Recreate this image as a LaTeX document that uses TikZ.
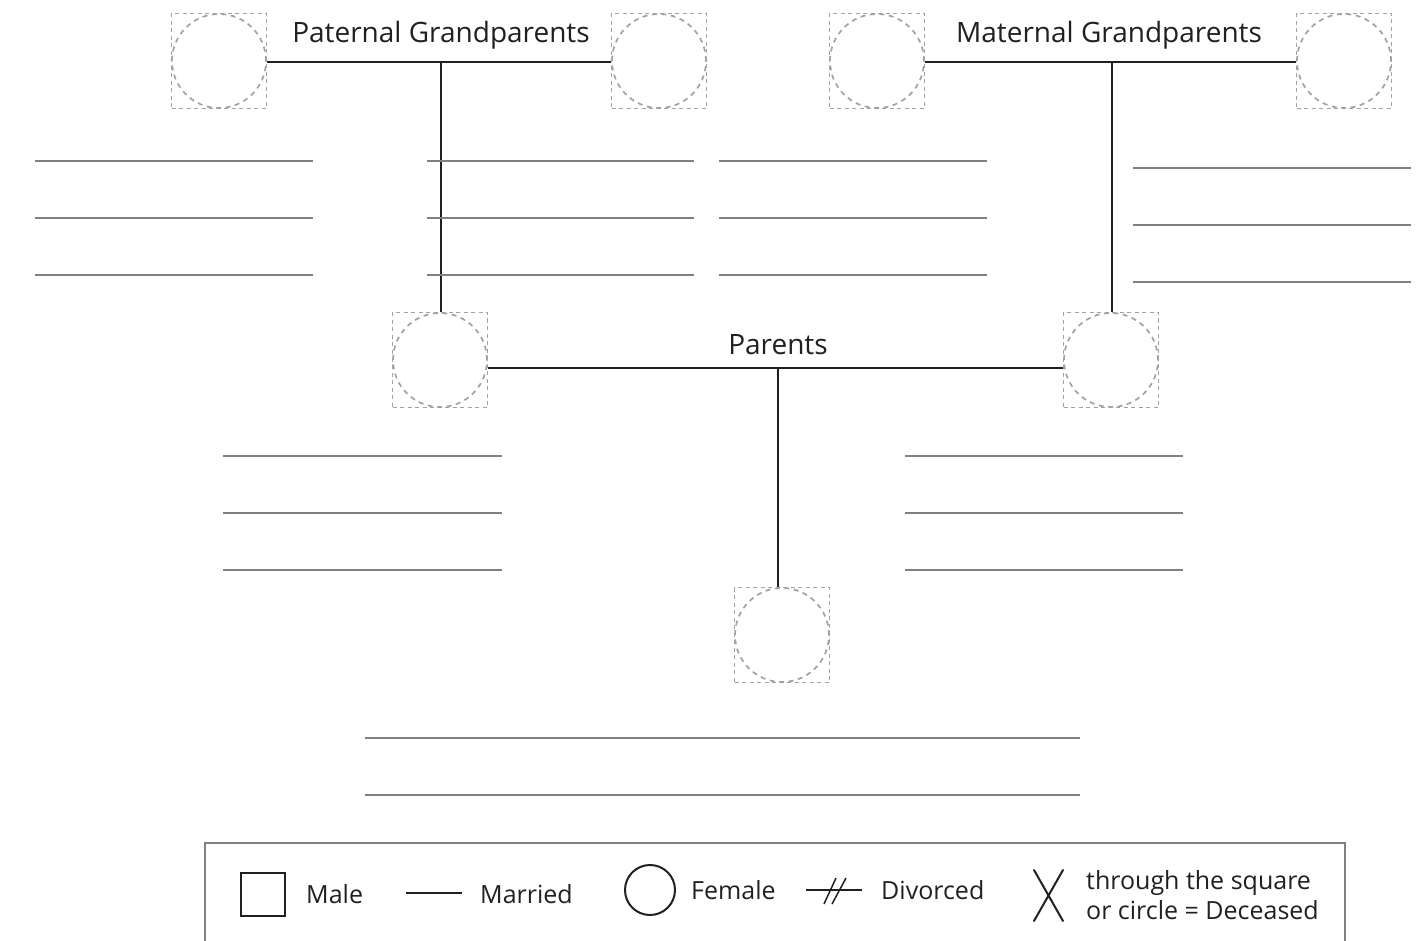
\documentclass[tikz,border=0pt]{standalone}
\usepackage{fontspec}
\setmainfont{Open Sans}
\definecolor{ink}{HTML}{231F20}
\definecolor{rule}{HTML}{808080}
\definecolor{dash}{HTML}{A0A2A5}
\tikzset{
  persq/.style={rectangle, draw=dash, line width=1.7pt, dash pattern=on 4pt off 3.5pt, minimum size=95pt, inner sep=0pt},
  perci/.style={circle, draw=dash, line width=1.7pt, dash pattern=on 5pt off 4.5pt, minimum size=94pt, inner sep=0pt},
  link/.style={draw=ink, line width=2pt},
  blank/.style={draw=rule, line width=1.2pt},
  title/.style={text=ink, font=\fontsize{28}{32}\selectfont, inner sep=0pt, anchor=base},
  legtxt/.style={text=ink, font=\fontsize{25}{30}\selectfont, inner sep=0pt, anchor=west},
}
\begin{document}
\begin{tikzpicture}[x=1pt,y=-1pt]
\useasboundingbox (0,0) rectangle (1427,941);
% persons
\node[persq] (pgf1) at (219,61) {}; \node[perci] (pgf1c) at (pgf1) {};
\node[persq] (pgf2) at (659,61) {}; \node[perci] (pgf2c) at (pgf2) {};
\node[persq] (mgf1) at (877,61) {}; \node[perci] (mgf1c) at (mgf1) {};
\node[persq] (mgf2) at (1344,61) {}; \node[perci] (mgf2c) at (mgf2) {};
\node[persq] (par1) at (440,360) {}; \node[perci] (par1c) at (par1) {};
\node[persq] (par2) at (1111,360) {}; \node[perci] (par2c) at (par2) {};
\node[persq] (kid) at (782,635) {}; \node[perci] (kidc) at (kid) {};
% titles
\node[title] (tpg) at (441,43) {Paternal Grandparents};
\node[title] (tmg) at (1109,43) {Maternal Grandparents};
\node[title] (tpa) at (778,354) {Parents};
% connectors
\coordinate (pj) at (441,62);
\coordinate (mj) at (1112,62);
\coordinate (cj) at (778,368);
\draw[link] ([yshift=-1pt]pgf1.east) -- ([yshift=-1pt]pgf2.west);
\draw[link] (pj) -- (par1.north -| pj);
\draw[link] ([yshift=-1pt]mgf1.east) -- ([yshift=-1pt]mgf2.west);
\draw[link] (mj) -- (par2.north -| mj);
\draw[link] ([yshift=-8pt]par1.east) -- ([yshift=-8pt]par2.west);
\draw[link] (cj) -- (kid.north -| cj);
% blank lines
\foreach \y in {161,218,275}{
  \draw[blank] (35,\y) -- (313,\y);
  \draw[blank] (427,\y) -- (694,\y);
  \draw[blank] (719,\y) -- (987,\y);
}
\foreach \y in {168,225,282}{ \draw[blank] (1133,\y) -- (1411,\y); }
\foreach \y in {456,513,570}{
  \draw[blank] (223,\y) -- (502,\y);
  \draw[blank] (905,\y) -- (1183,\y);
}
\foreach \y in {738,795}{ \draw[blank] (365,\y) -- (1080,\y); }
% legend
\draw[draw=rule, line width=1.5pt] (205,941) -- (205,843) -- (1345,843) -- (1345,941);
\draw[ink, line width=2pt] (241,873) rectangle (285,916);
\node[legtxt] (lmale) at (306,894) {Male};
\draw[ink, line width=1.5pt] (406,893) -- (462,893);
\node[legtxt] (lmar) at (480,894) {Married};
\draw[ink, line width=2pt] (650,890) circle (25);
\node[legtxt] (lfem) at (691,890) {Female};
\draw[ink, line width=1.5pt] (806,890) -- (862,890);
\draw[ink, line width=1.5pt] (824,904) -- (836,878) (832,904) -- (846,878);
\node[legtxt] (ldiv) at (881,890) {Divorced};
\draw[ink, line width=2pt, line cap=round] (1034,870) -- (1063,921) (1063,870) -- (1034,921);
\node[legtxt, align=left] (ldec) at (1086,895) {through the square\\or circle = Deceased};
\end{tikzpicture}
\end{document}
